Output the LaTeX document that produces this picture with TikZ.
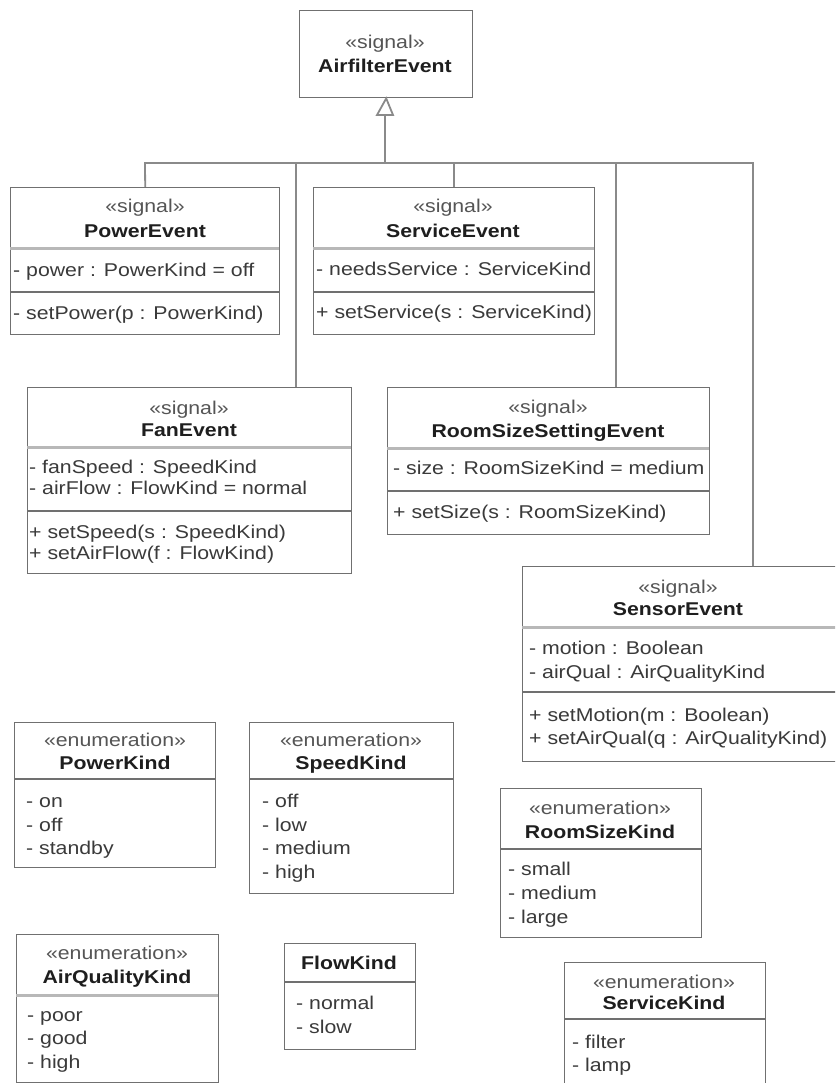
\documentclass[tikz,border=0pt]{standalone}
\usepackage{fontspec}
\usetikzlibrary{calc}
\setmainfont[FakeStretch=1.15]{Liberation Sans}
\definecolor{boxgray}{HTML}{707070}
\definecolor{sepgray}{HTML}{B8B8B8}
\definecolor{linegray}{HTML}{8A8A8A}
\definecolor{stereogray}{HTML}{555555}
\definecolor{attrgray}{HTML}{3A3A3A}
\definecolor{namegray}{HTML}{1E1E1E}
\tikzset{
  box/.style={draw=boxgray, line width=1.4pt, inner sep=0pt, anchor=north west},
  sep/.style={draw=boxgray, line width=1.4pt},
  namesep/.style={draw=sepgray, line width=3pt},
  conn/.style={draw=linegray, line width=1.8pt},
  txt/.style={font=\fontsize{18.5}{21}\selectfont, inner sep=0pt, anchor=mid, yshift=-3.5pt},
  stereo/.style={txt, text=stereogray},
  cname/.style={txt, text=namegray, font=\fontsize{18.5}{21}\selectfont\bfseries},
  attr/.style={txt, text=attrgray, anchor=mid west},
}
\begin{document}
\begin{tikzpicture}[x=1pt, y=-1pt]
\clip (0,0) rectangle (835,1083);
\useasboundingbox (0,0) rectangle (835,1083);
\fill[white] (0,0) rectangle (835,1083);

% ---------- AirfilterEvent ----------
\node[box, minimum width=173pt, minimum height=87pt] (air) at (299,10) {};
\node[stereo] (air-st) at (385,42) {«signal»};
\node[cname] (air-n) at (385,66) {AirfilterEvent};

% ---------- PowerEvent ----------
\node[box, minimum width=269pt, minimum height=147pt] (power) at (10,187) {};
\draw[namesep] (10,248) -- (279,248);
\draw[sep] (10,292) -- (279,292);
\node[stereo] (pow-st) at (145,206) {«signal»};
\node[cname] (pow-n) at (145,231) {PowerEvent};
\node[attr] (pow-a1) at (13,270) {- power : PowerKind = off};
\node[attr] (pow-o1) at (13,313) {- setPower(p : PowerKind)};

% ---------- ServiceEvent ----------
\node[box, minimum width=281pt, minimum height=147pt] (service) at (313,187) {};
\draw[namesep] (313,248) -- (594,248);
\draw[sep] (313,292) -- (594,292);
\node[stereo] (ser-st) at (453,206) {«signal»};
\node[cname] (ser-n) at (453,231) {ServiceEvent};
\node[attr] (ser-a1) at (316,269) {- needsService : ServiceKind};
\node[attr] (ser-o1) at (316,312) {+ setService(s : ServiceKind)};

% ---------- FanEvent ----------
\node[box, minimum width=324pt, minimum height=186pt] (fan) at (27,387) {};
\draw[namesep] (27,447) -- (351,447);
\draw[sep] (27,511) -- (351,511);
\node[stereo] (fan-st) at (189,408) {«signal»};
\node[cname] (fan-n) at (189,430) {FanEvent};
\node[attr] (fan-a1) at (29,467) {- fanSpeed : SpeedKind};
\node[attr] (fan-a2) at (29,488) {- airFlow : FlowKind = normal};
\node[attr] (fan-o1) at (29,532) {+ setSpeed(s : SpeedKind)};
\node[attr] (fan-o2) at (29,553) {+ setAirFlow(f : FlowKind)};

% ---------- RoomSizeSettingEvent ----------
\node[box, minimum width=322pt, minimum height=147pt] (room) at (387,387) {};
\draw[namesep] (387,448) -- (709,448);
\draw[sep] (387,491) -- (709,491);
\node[stereo] (room-st) at (548,407) {«signal»};
\node[cname] (room-n) at (548,431) {RoomSizeSettingEvent};
\node[attr] (room-a1) at (393,468) {- size : RoomSizeKind = medium};
\node[attr] (room-o1) at (393,512) {+ setSize(s : RoomSizeKind)};

% ---------- SensorEvent ----------
\node[box, minimum width=318pt, minimum height=195pt] (sensor) at (522,566) {};
\draw[namesep] (522,627) -- (840,627);
\draw[sep] (522,692) -- (840,692);
\node[stereo] (sen-st) at (678,587) {«signal»};
\node[cname] (sen-n) at (678,609) {SensorEvent};
\node[attr] (sen-a1) at (529,648) {- motion : Boolean};
\node[attr] (sen-a2) at (529,672) {- airQual : AirQualityKind};
\node[attr] (sen-o1) at (529,715) {+ setMotion(m : Boolean)};
\node[attr] (sen-o2) at (529,738) {+ setAirQual(q : AirQualityKind)};

% ---------- generalization ----------
\coordinate (j) at (385,163);
\coordinate (bar-l) at (145,163);
\coordinate (bar-r) at (753,163);
\coordinate (fanT) at (296,387);
\coordinate (roomT) at (616,387);
\coordinate (senT) at (753,566);
\coordinate (tribase) at (385,115);
\draw[conn] (power.north) -- (bar-l) -- (bar-r) -- (senT);
\draw[conn] (service.north) -- (service.north |- j);
\draw[conn] (fanT) -- (fanT |- j);
\draw[conn] (roomT) -- (roomT |- j);
\draw[conn] (j) -- (tribase);
\draw[conn, fill=white, line join=miter] (air.south) -- ($(tribase)+(-8,0)$) -- ($(tribase)+(8,0)$) -- cycle;

% ---------- PowerKind ----------
\node[box, minimum width=201pt, minimum height=145pt] (pk) at (14,722) {};
\draw[sep] (14,779) -- (215,779);
\node[stereo] (pk-st) at (115,740) {«enumeration»};
\node[cname] (pk-n) at (115,763) {PowerKind};
\node[attr] (pk-1) at (26,801) {- on};
\node[attr] (pk-2) at (26,825) {- off};
\node[attr] (pk-3) at (26,848) {- standby};

% ---------- SpeedKind ----------
\node[box, minimum width=204pt, minimum height=171pt] (sk) at (249,722) {};
\draw[sep] (249,779) -- (453,779);
\node[stereo] (sk-st) at (351,740) {«enumeration»};
\node[cname] (sk-n) at (351,763) {SpeedKind};
\node[attr] (sk-1) at (262,801) {- off};
\node[attr] (sk-2) at (262,825) {- low};
\node[attr] (sk-3) at (262,848) {- medium};
\node[attr] (sk-4) at (262,872) {- high};

% ---------- RoomSizeKind ----------
\node[box, minimum width=201pt, minimum height=149pt] (rk) at (500,788) {};
\draw[sep] (500,849) -- (701,849);
\node[stereo] (rk-st) at (600,808) {«enumeration»};
\node[cname] (rk-n) at (600,832) {RoomSizeKind};
\node[attr] (rk-1) at (508,869) {- small};
\node[attr] (rk-2) at (508,893) {- medium};
\node[attr] (rk-3) at (508,917) {- large};

% ---------- AirQualityKind ----------
\node[box, minimum width=202pt, minimum height=148pt] (aq) at (16,934) {};
\draw[namesep] (16,995) -- (218,995);
\node[stereo] (aq-st) at (117,953) {«enumeration»};
\node[cname] (aq-n) at (117,977) {AirQualityKind};
\node[attr] (aq-1) at (27,1015) {- poor};
\node[attr] (aq-2) at (27,1038) {- good};
\node[attr] (aq-3) at (27,1062) {- high};

% ---------- FlowKind ----------
\node[box, minimum width=131pt, minimum height=106pt] (fk) at (284,943) {};
\draw[sep] (284,982) -- (415,982);
\node[cname] (fk-n) at (349,963) {FlowKind};
\node[attr] (fk-1) at (296,1003) {- normal};
\node[attr] (fk-2) at (296,1027) {- slow};

% ---------- ServiceKind ----------
\node[box, minimum width=201pt, minimum height=130pt] (svk) at (564,962) {};
\draw[sep] (564,1019) -- (765,1019);
\node[stereo] (svk-st) at (664,982) {«enumeration»};
\node[cname] (svk-n) at (664,1003) {ServiceKind};
\node[attr] (svk-1) at (572,1042) {- filter};
\node[attr] (svk-2) at (572,1065) {- lamp};
\end{tikzpicture}
\end{document}
